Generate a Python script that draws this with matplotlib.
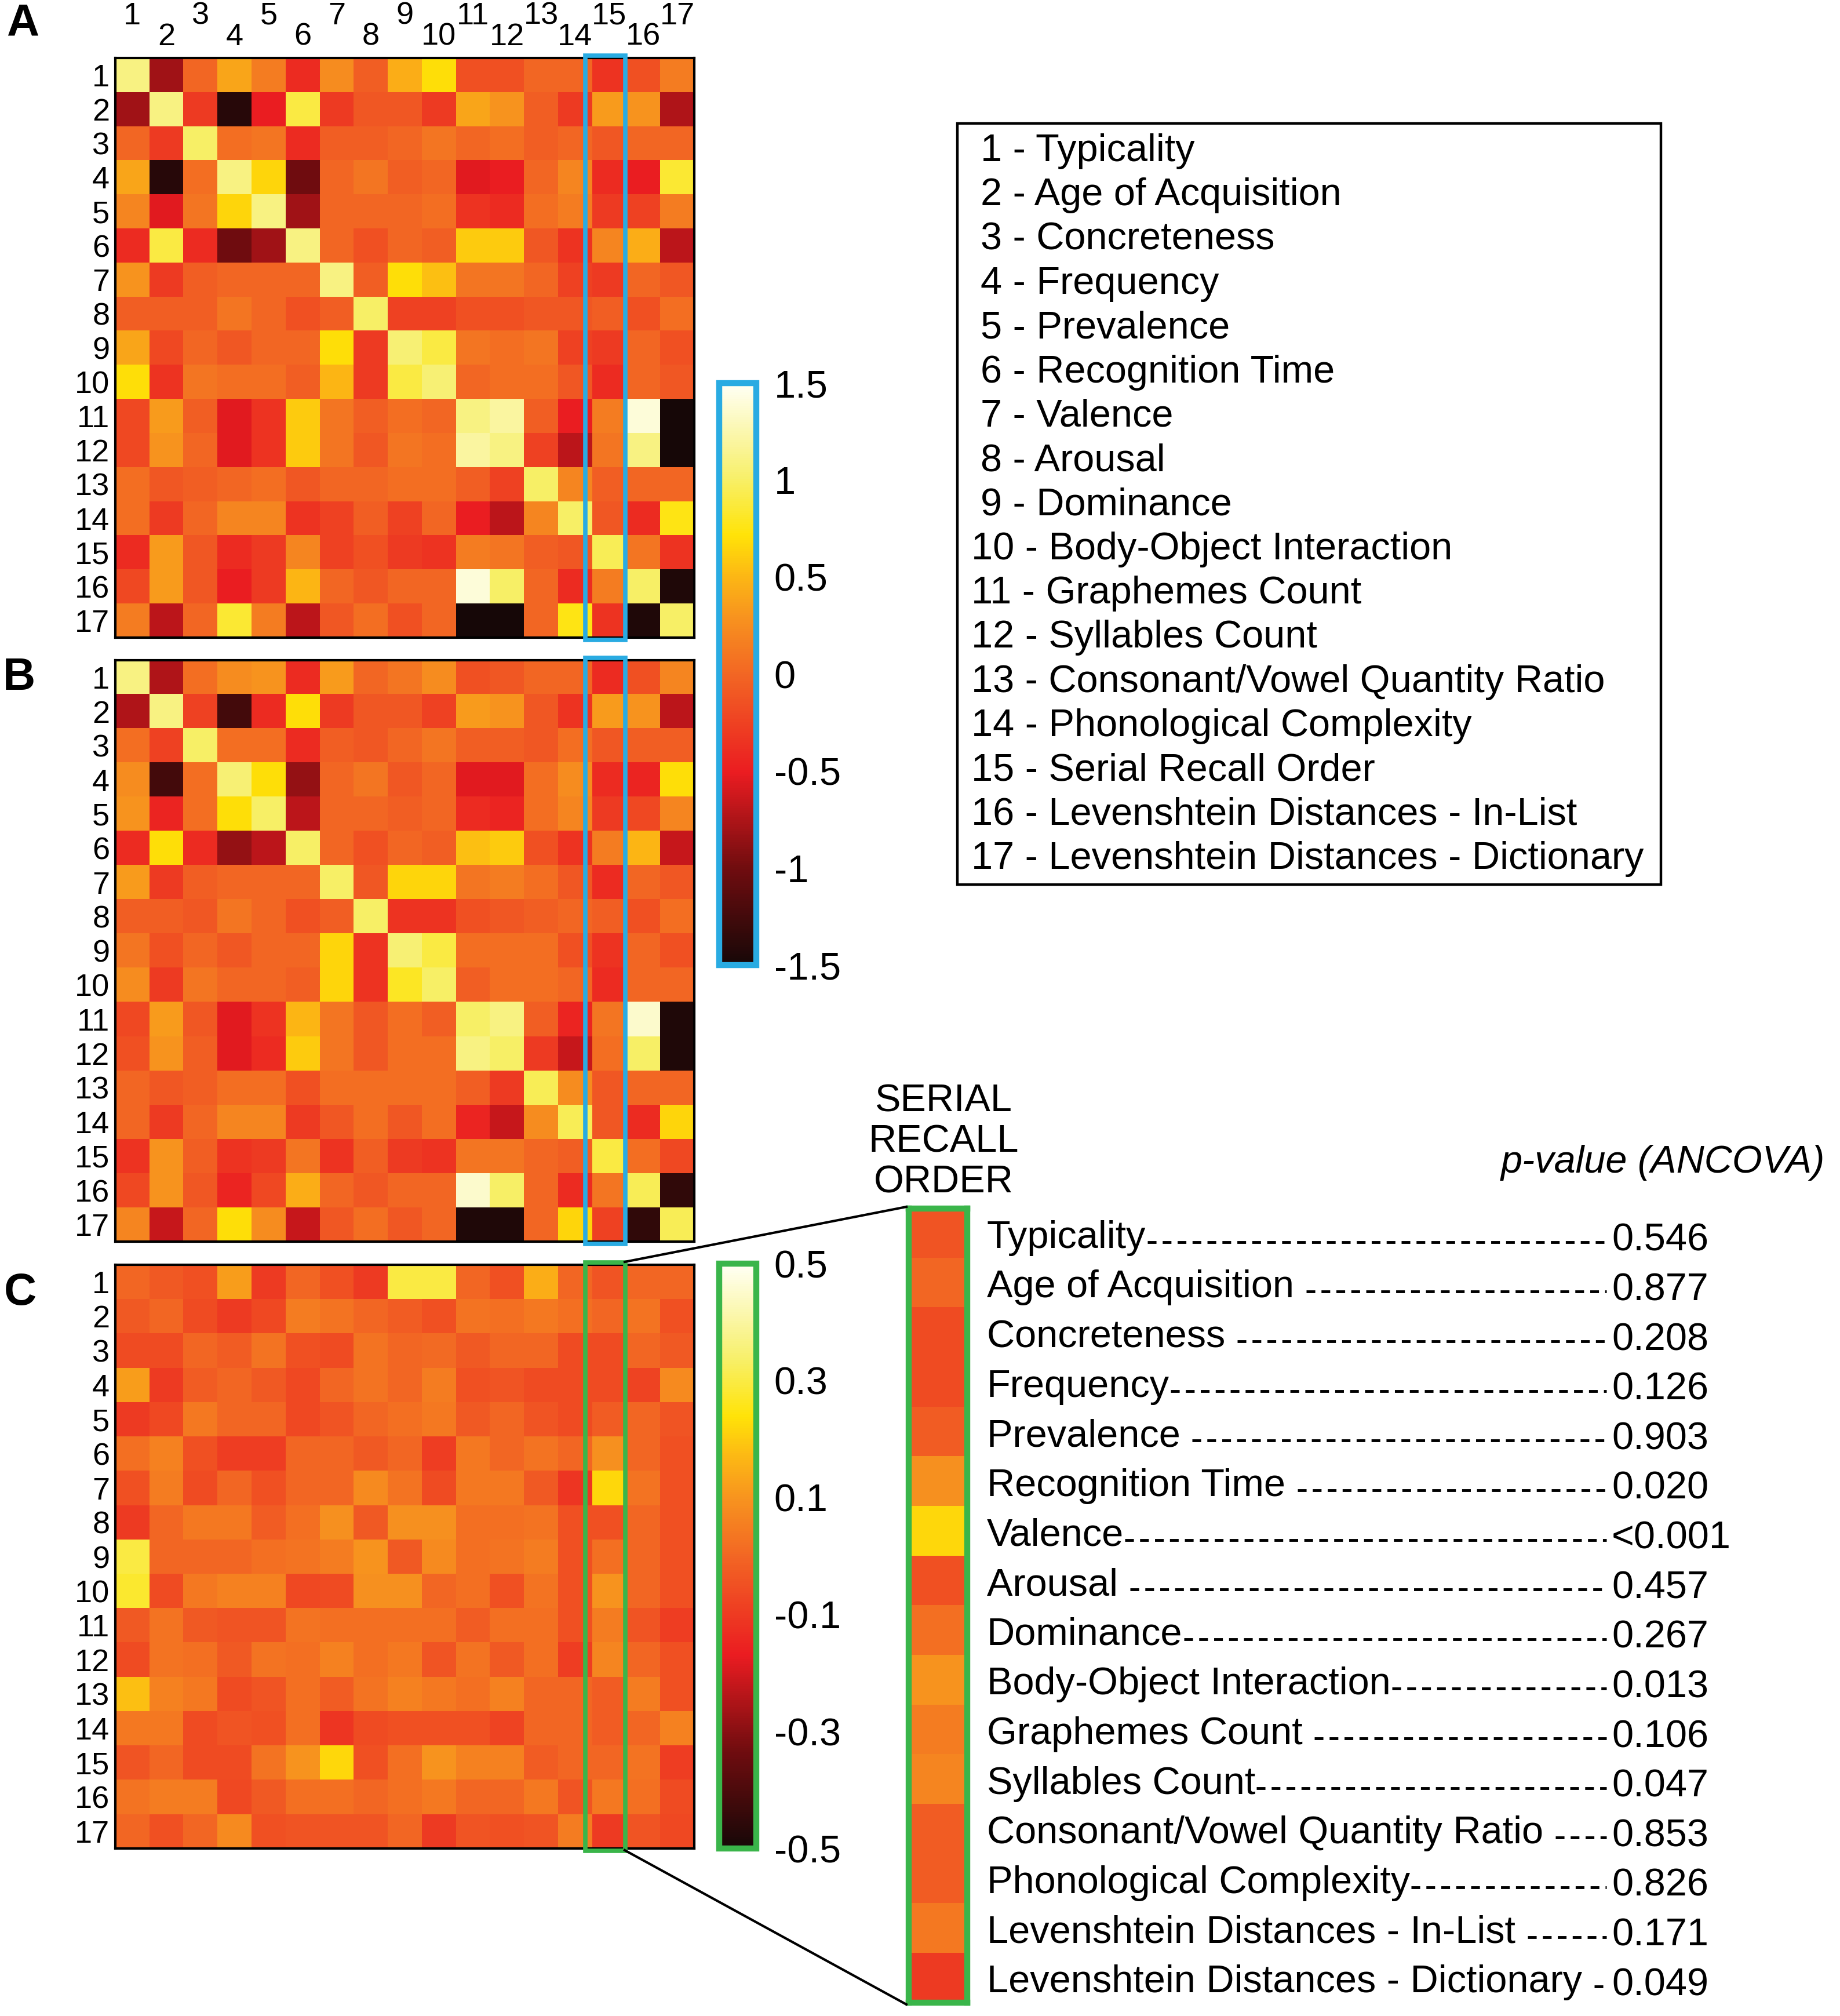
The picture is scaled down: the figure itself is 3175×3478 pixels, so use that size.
import numpy as np
import matplotlib.pyplot as plt
from matplotlib.patches import Rectangle
from matplotlib.colors import LinearSegmentedColormap

plt.rcParams['font.family'] = ['Liberation Sans', 'DejaVu Sans']
plt.rcParams['axes.unicode_minus'] = False

W, H = 3175, 3478

# variable names (numbered legend)
variables = ['Typicality', 'Age of Acquisition', 'Concreteness', 'Frequency',
             'Prevalence', 'Recognition Time', 'Valence', 'Arousal', 'Dominance',
             'Body-Object Interaction', 'Graphemes Count', 'Syllables Count',
             'Consonant/Vowel Quantity Ratio', 'Phonological Complexity',
             'Serial Recall Order', 'Levenshtein Distances - In-List',
             'Levenshtein Distances - Dictionary']

# labels of the zoomed serial recall column (trailing space = gap before leader)
recall_labels = ['Typicality', 'Age of Acquisition ', 'Concreteness ', 'Frequency',
                 'Prevalence ', 'Recognition Time ', 'Valence', 'Arousal ',
                 'Dominance', 'Body-Object Interaction', 'Graphemes Count ',
                 'Syllables Count', 'Consonant/Vowel Quantity Ratio ',
                 'Phonological Complexity', 'Levenshtein Distances - In-List ',
                 'Levenshtein Distances - Dictionary ']
p_values = ['0.546', '0.877', '0.208', '0.126', '0.903', '0.020', '<0.001', '0.457',
            '0.267', '0.013', '0.106', '0.047', '0.853', '0.826', '0.171', '0.049']

# panel A
corr_a = np.array([
    [1.1, -0.8, 0.0, 0.4, 0.15, -0.4, 0.25, -0.05, 0.45, 0.7, -0.15, -0.15, 0.0, 0.0, -0.35, -0.15, 0.15],
    [-0.8, 1.1, -0.3, -1.4, -0.5, 0.9, -0.3, -0.1, -0.1, -0.3, 0.4, 0.3, -0.05, -0.3, 0.35, 0.3, -0.75],
    [0.0, -0.3, 1.0, 0.05, 0.1, -0.4, -0.05, -0.05, 0.0, 0.1, 0.0, 0.05, -0.05, 0.0, -0.1, 0.0, 0.0],
    [0.4, -1.4, 0.05, 1.1, 0.65, -1.0, 0.0, 0.1, -0.05, 0.0, -0.55, -0.5, 0.0, 0.2, -0.4, -0.5, 0.85],
    [0.2, -0.55, 0.1, 0.65, 1.1, -0.8, 0.0, 0.0, 0.0, 0.05, -0.35, -0.4, 0.05, 0.15, -0.3, -0.25, 0.15],
    [-0.4, 0.9, -0.4, -1.0, -0.8, 1.1, 0.0, -0.15, 0.0, -0.05, 0.6, 0.6, -0.1, -0.35, 0.2, 0.45, -0.7],
    [0.3, -0.3, -0.05, 0.0, 0.0, 0.0, 1.1, -0.05, 0.7, 0.55, 0.1, 0.1, 0.0, -0.25, -0.3, 0.0, -0.1],
    [-0.05, -0.05, -0.05, 0.1, 0.0, -0.15, -0.05, 1.0, -0.25, -0.25, -0.15, -0.15, -0.1, -0.1, -0.05, -0.15, 0.05],
    [0.4, -0.2, 0.0, -0.1, 0.0, 0.0, 0.7, -0.3, 1.05, 0.9, 0.1, 0.05, 0.1, -0.25, -0.3, 0.0, -0.15],
    [0.7, -0.35, 0.1, 0.05, 0.05, -0.05, 0.5, -0.3, 0.9, 1.05, 0.0, 0.05, 0.05, -0.1, -0.4, 0.0, -0.1],
    [-0.2, 0.35, -0.05, -0.55, -0.35, 0.6, 0.1, -0.05, 0.05, 0.0, 1.1, 1.2, -0.05, -0.5, 0.15, 1.4, -1.5],
    [-0.2, 0.3, 0.0, -0.55, -0.35, 0.6, 0.1, -0.1, 0.1, 0.05, 1.2, 1.1, -0.25, -0.7, 0.1, 1.1, -1.5],
    [0.05, -0.1, -0.05, 0.0, 0.05, -0.1, 0.0, 0.0, 0.05, 0.05, -0.05, -0.25, 1.0, 0.2, -0.05, 0.0, 0.0],
    [0.05, -0.3, 0.0, 0.2, 0.2, -0.35, -0.25, -0.05, -0.25, 0.0, -0.5, -0.7, 0.2, 1.0, -0.1, -0.4, 0.75],
    [-0.4, 0.35, -0.1, -0.4, -0.3, 0.2, -0.25, -0.15, -0.3, -0.35, 0.15, 0.1, -0.05, -0.1, 0.95, 0.1, -0.35],
    [-0.2, 0.35, -0.1, -0.5, -0.3, 0.5, 0.0, -0.1, 0.0, 0.0, 1.4, 1.0, 0.0, -0.4, 0.15, 1.0, -1.45],
    [0.15, -0.7, 0.0, 0.85, 0.15, -0.7, -0.1, 0.05, -0.15, 0.0, -1.5, -1.5, 0.0, 0.75, -0.35, -1.45, 1.0],
])

# panel B
corr_b = np.array([
    [1.1, -0.75, 0.05, 0.25, 0.3, -0.4, 0.35, 0.0, 0.1, 0.25, -0.15, -0.1, 0.0, 0.0, -0.4, -0.15, 0.2],
    [-0.75, 1.1, -0.25, -1.25, -0.4, 0.7, -0.3, -0.1, -0.1, -0.25, 0.35, 0.3, -0.1, -0.35, 0.35, 0.3, -0.7],
    [0.05, -0.25, 1.0, 0.05, 0.05, -0.4, -0.05, -0.1, 0.0, 0.1, -0.05, -0.05, -0.1, 0.05, -0.1, -0.05, -0.05],
    [0.25, -1.25, 0.05, 1.05, 0.7, -0.85, 0.0, 0.1, -0.1, 0.0, -0.55, -0.55, 0.05, 0.25, -0.4, -0.45, 0.7],
    [0.3, -0.45, 0.05, 0.7, 1.0, -0.7, 0.0, 0.0, -0.05, 0.0, -0.4, -0.45, 0.05, 0.2, -0.3, -0.2, 0.2],
    [-0.4, 0.7, -0.4, -0.85, -0.7, 1.0, 0.0, -0.15, 0.0, -0.05, 0.55, 0.6, -0.15, -0.35, 0.15, 0.5, -0.65],
    [0.35, -0.3, -0.05, 0.0, 0.0, 0.0, 1.0, -0.1, 0.65, 0.65, 0.1, 0.15, 0.05, -0.1, -0.4, 0.0, -0.1],
    [-0.05, -0.05, -0.1, 0.1, 0.0, -0.15, -0.05, 1.0, -0.35, -0.35, -0.15, -0.1, -0.05, 0.0, -0.05, -0.15, 0.05],
    [0.1, -0.15, 0.0, -0.1, 0.0, 0.0, 0.65, -0.35, 1.05, 0.9, 0.05, 0.05, 0.05, -0.15, -0.35, 0.0, -0.15],
    [0.25, -0.3, 0.1, 0.0, 0.0, -0.05, 0.65, -0.35, 0.8, 1.0, -0.05, 0.05, 0.05, 0.0, -0.4, 0.0, 0.0],
    [-0.2, 0.35, -0.1, -0.55, -0.35, 0.5, 0.1, -0.1, 0.05, -0.05, 1.0, 1.1, -0.05, -0.45, 0.1, 1.35, -1.45],
    [-0.15, 0.3, -0.05, -0.55, -0.4, 0.6, 0.1, -0.1, 0.05, 0.05, 1.1, 1.0, -0.3, -0.65, 0.05, 1.0, -1.45],
    [0.0, -0.1, -0.05, 0.05, 0.05, -0.15, 0.05, 0.05, 0.05, 0.05, -0.05, -0.3, 0.95, 0.25, -0.1, 0.0, 0.0],
    [0.0, -0.3, 0.0, 0.2, 0.2, -0.3, -0.1, 0.05, -0.1, 0.05, -0.45, -0.65, 0.25, 0.95, -0.1, -0.4, 0.65],
    [-0.35, 0.3, -0.05, -0.35, -0.3, 0.1, -0.35, -0.05, -0.3, -0.35, 0.1, 0.1, 0.0, -0.05, 0.9, 0.05, -0.2],
    [-0.2, 0.3, -0.1, -0.45, -0.2, 0.45, 0.0, -0.1, 0.0, 0.0, 1.35, 1.0, 0.0, -0.4, 0.1, 0.95, -1.35],
    [0.2, -0.65, 0.0, 0.7, 0.25, -0.65, -0.1, 0.05, -0.1, 0.0, -1.45, -1.45, 0.0, 0.65, -0.25, -1.35, 0.95],
])

# panel C
corr_c = np.array([
    [0.0, -0.03, -0.05, 0.12, -0.1, 0.0, -0.05, -0.1, 0.3, 0.3, 0.0, -0.05, 0.15, 0.0, -0.04, 0.0, 0.0],
    [-0.03, 0.0, -0.06, -0.1, -0.07, 0.05, 0.03, 0.0, -0.02, -0.05, 0.03, 0.02, 0.04, 0.02, 0.0, 0.03, -0.05],
    [-0.06, -0.06, 0.0, -0.02, 0.03, -0.05, -0.06, 0.03, 0.0, 0.01, -0.03, 0.0, 0.0, -0.06, -0.06, 0.0, -0.03],
    [0.12, -0.1, -0.02, 0.0, -0.03, -0.07, 0.0, 0.03, 0.0, 0.05, -0.05, -0.04, -0.06, -0.06, -0.06, -0.08, 0.08],
    [-0.1, -0.07, 0.04, 0.0, 0.0, -0.07, -0.04, 0.0, 0.02, 0.04, -0.03, 0.0, -0.04, -0.06, -0.02, 0.0, -0.04],
    [0.02, 0.06, -0.05, -0.09, -0.09, 0.0, 0.0, -0.03, 0.0, -0.09, 0.04, 0.0, 0.03, 0.0, 0.09, 0.0, -0.05],
    [-0.05, 0.05, -0.06, 0.0, -0.05, 0.0, 0.0, 0.08, 0.03, -0.06, 0.04, 0.04, -0.03, -0.11, 0.22, 0.03, -0.05],
    [-0.1, 0.0, 0.04, 0.04, -0.02, 0.02, 0.09, -0.03, 0.09, 0.09, 0.02, 0.02, 0.03, -0.05, -0.05, 0.0, -0.05],
    [0.3, 0.0, 0.0, 0.0, 0.02, 0.03, 0.05, 0.1, -0.03, 0.08, 0.02, 0.03, 0.05, -0.05, 0.02, 0.0, -0.05],
    [0.28, -0.06, 0.04, 0.06, 0.06, -0.07, -0.06, 0.09, 0.09, 0.0, 0.02, -0.05, 0.03, -0.05, 0.1, 0.0, -0.05],
    [-0.03, 0.03, -0.03, -0.04, -0.04, 0.03, 0.02, 0.02, 0.02, 0.02, -0.02, 0.02, 0.02, -0.05, 0.05, -0.04, -0.09],
    [-0.06, 0.03, 0.02, -0.03, 0.03, 0.02, 0.06, 0.02, 0.04, -0.04, 0.03, -0.03, 0.02, -0.09, 0.07, 0.0, -0.05],
    [0.18, 0.06, 0.04, -0.06, -0.04, 0.02, -0.02, 0.03, 0.06, 0.04, 0.02, 0.06, 0.0, 0.0, -0.02, 0.05, -0.05],
    [0.04, 0.04, -0.06, -0.04, -0.05, 0.02, -0.11, -0.06, -0.05, -0.05, -0.05, -0.08, 0.0, 0.0, -0.02, 0.0, 0.06],
    [-0.04, 0.0, -0.06, -0.06, 0.03, 0.1, 0.22, -0.05, 0.02, 0.1, 0.06, 0.06, -0.02, 0.0, 0.0, 0.03, -0.09],
    [0.03, 0.05, 0.05, -0.07, -0.03, 0.02, 0.02, 0.0, 0.02, 0.04, 0.0, 0.0, 0.04, -0.04, 0.04, 0.02, -0.06],
    [0.0, -0.05, 0.0, 0.08, -0.05, -0.04, -0.04, -0.04, 0.0, -0.1, -0.04, -0.05, -0.04, 0.05, -0.1, -0.04, -0.07],
])

recall_idx = 14  # 'Serial Recall Order'
recall_strip = np.delete(corr_c[:, recall_idx], recall_idx)

BLUE = '#29ABE2'
GREEN = '#3AB54A'
FS = 48

# 'hot'-like map, a little softer like the printed figure
heat = LinearSegmentedColormap.from_list('heat', [
    (0.00, (0.09, 0.03, 0.03)),
    (0.17, (0.45, 0.05, 0.06)),
    (0.33, (0.92, 0.11, 0.13)),
    (0.50, (0.95, 0.40, 0.14)),
    (0.60, (0.97, 0.58, 0.12)),
    (0.67, (0.99, 0.72, 0.08)),
    (0.74, (1.00, 0.89, 0.03)),
    (0.84, (0.97, 0.94, 0.42)),
    (1.00, (1.00, 1.00, 0.96)),
])

fig = plt.figure(figsize=(W / 100, H / 100), dpi=100)


def px_axes(x0, y0, x1, y1):
    return fig.add_axes([x0 / W, 1 - y1 / H, (x1 - x0) / W, (y1 - y0) / H])


def draw_matrix(box, data, vmin, vmax, frame_color):
    ax = px_axes(*box)
    im = ax.imshow(data, cmap=heat, vmin=vmin, vmax=vmax, aspect='auto',
                   interpolation='nearest')
    ax.set_xticks([])
    ax.set_yticks(range(17))
    ax.set_yticklabels([str(i + 1) for i in range(17)], fontsize=39)
    ax.tick_params(axis='y', length=0, pad=7)
    for s in ax.spines.values():
        s.set_linewidth(3)
    ax.add_patch(Rectangle((13.3, -0.56), 1.17, 17.12, fill=False,
                           edgecolor=frame_color, lw=5.5, clip_on=False, zorder=5))
    return ax, im


ax_a, im_a = draw_matrix((199, 100, 1198, 1100), corr_a, -1.5, 1.5, BLUE)
ax_b, im_b = draw_matrix((199, 1139, 1198, 2142), corr_b, -1.5, 1.5, BLUE)
ax_c, im_c = draw_matrix((199, 2182, 1198, 3189), corr_c, -0.5, 0.5, GREEN)

# staggered column numbers on top of panel A
for j in range(17):
    ax_a.text(j, -1.73 if j % 2 == 0 else -1.12, str(j + 1), ha='center', va='center',
              fontsize=39, clip_on=False)


def draw_colorbar(box, im, ticks, ticklabels, color):
    cax = px_axes(*box)
    cb = fig.colorbar(im, cax=cax)
    cb.set_ticks(ticks)
    cb.set_ticklabels(ticklabels)
    cax.tick_params(length=0, pad=22, labelsize=FS)
    cb.outline.set_edgecolor(color)
    cb.outline.set_linewidth(7.5)
    return cb


draw_colorbar((1241, 661, 1305, 1665), im_a, [1.5, 1, 0.5, 0, -0.5, -1, -1.5],
              ['1.5', '1', '0.5', '0', '-0.5', '-1', '-1.5'], BLUE)
draw_colorbar((1241, 2180, 1305, 3189), im_c, [0.5, 0.3, 0.1, -0.1, -0.3, -0.5],
              ['0.5', '0.3', '0.1', '-0.1', '-0.3', '-0.5'], GREEN)

# zoomed serial recall column
ax_s = px_axes(1568, 2085, 1669, 3455)
ax_s.imshow(recall_strip.reshape(-1, 1), cmap=heat, vmin=-0.5, vmax=0.5,
            aspect='auto', interpolation='nearest')
ax_s.set_xticks([])
ax_s.set_yticks([])
for s in ax_s.spines.values():
    s.set_edgecolor(GREEN)
    s.set_linewidth(7.5)

# overlay in pixel coordinates for texts and connector lines
ov = fig.add_axes([0, 0, 1, 1])
ov.set_xlim(0, W)
ov.set_ylim(H, 0)
ov.axis('off')

for letter, (x, y) in zip('ABC', [(39, 41), (33, 1169), (35, 2230)]):
    ov.text(x, y, letter, ha='center', va='center', fontsize=56, fontweight='bold')

# numbered legend box
ov.add_patch(Rectangle((1652, 213), 2866 - 1652, 1526 - 213, fill=False,
                       edgecolor='black', lw=3.2))
for i, name in enumerate(variables):
    x = 1676 if i >= 9 else 1692
    ov.text(x, 261 + 76.3 * i, f'{i + 1} - {name}', ha='left', va='center', fontsize=FS)

# connector lines
ov.plot([1078, 1564], [2177, 2082], color='black', lw=3)
ov.plot([1078, 1564], [3192, 3458], color='black', lw=3)

for k, word in enumerate(['SERIAL', 'RECALL', 'ORDER']):
    ov.text(1628, 1900 + 70 * k, word, ha='center', va='center', fontsize=FS)
ov.text(2590, 2006, 'p-value (ANCOVA)', ha='left', va='center', fontsize=FS,
        style='italic')

renderer = fig.canvas.get_renderer()
cell = (3455 - 2085) / len(recall_labels)
for i, (lab, pv) in enumerate(zip(recall_labels, p_values)):
    yc = 2085 + cell * (i + 0.5)
    t = ov.text(1703, yc + 8, lab, ha='left', va='center', fontsize=FS)
    ov.text(2781, yc + 13, pv, ha='left', va='center', fontsize=FS)
    x_end = t.get_window_extent(renderer).x1
    ov.plot([x_end + 2, 2772], [yc + 15, yc + 15], color='black', lw=3.5,
            dashes=(3.1, 2.2), dash_capstyle='butt')

fig.savefig('out.png', dpi=100)
